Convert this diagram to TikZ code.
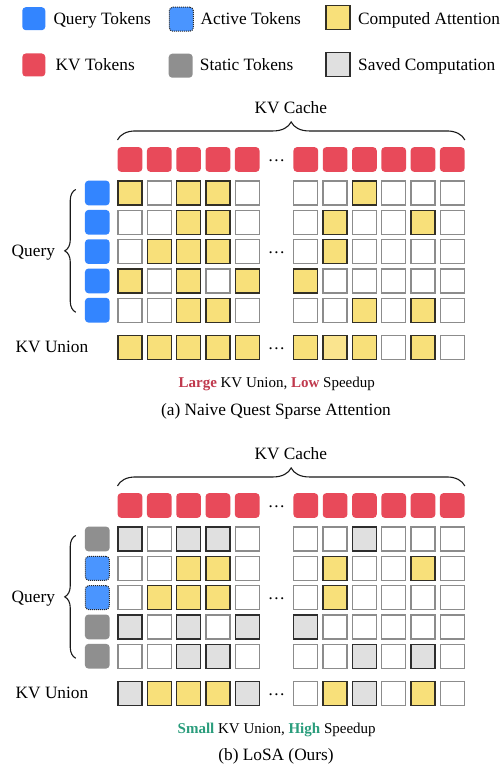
\documentclass[tikz,border=0pt]{standalone}
\usepackage{fontspec}
\setmainfont{Liberation Serif}
\usetikzlibrary{decorations.pathreplacing,calc}

\definecolor{qblue}{HTML}{3385FF}
\definecolor{ablue}{HTML}{4A95FF}
\definecolor{kvred}{HTML}{E84A5A}
\definecolor{sgrey}{HTML}{8F8F8F}
\definecolor{fcW}{HTML}{FFFFFF}
\definecolor{dcW}{HTML}{8C8C8C}
\definecolor{fcY}{HTML}{F8E07A}
\definecolor{dcY}{HTML}{333026}
\definecolor{fcL}{HTML}{FAE48E}
\definecolor{dcL}{HTML}{333026}
\definecolor{fcG}{HTML}{E0E0E0}
\definecolor{dcG}{HTML}{2E2E2E}
\definecolor{badred}{HTML}{C0394D}
\definecolor{goodgreen}{HTML}{2A9D7C}

\newcommand\mainsz{\fontsize{17.3}{20}\selectfont}
\newcommand\smallsz{\fontsize{15}{18}\selectfont}

\tikzset{
  tok/.style={minimum width=24.7pt, minimum height=24.7pt, inner sep=0pt, rounded corners=3.5pt, draw=none},
  kvtok/.style={tok, fill=kvred},
  qtok/.style={tok, fill=qblue},
  atok/.style={tok, fill=ablue, draw=black!85, densely dotted, line width=1pt, minimum width=24pt, minimum height=24pt},
  stok/.style={tok, fill=sgrey},
  cell/.style={minimum width=24pt, minimum height=24pt, inner sep=0pt, line width=1.3pt, draw=dc#1, fill=fc#1},
  lbl/.style={inner sep=0pt, font=\mainsz},
  sublbl/.style={inner sep=0pt, font=\smallsz},
  dots/.style={inner sep=0pt, font=\mainsz},
  bracestyle/.style={decorate, decoration={brace, amplitude=#1}, line width=1.1pt, black!90},
}

\newcommand\mygrid[3]{%
  \foreach \r/\pat in {#3} {
    \foreach \c [count=\k] in \pat {
      \pgfmathsetmacro\xx{\k<6 ? 130+29.3*(\k-1) : 130+29.3*\k}
      \pgfmathsetmacro\yy{#2 + (\r<6 ? 193+29.3*(\r-1) : 347.3)}
      \node[cell=\c] (#1\r-\k) at (\xx,\yy) {};
    }
  }
  \foreach \k in {1,...,11} {
    \pgfmathsetmacro\xx{\k<6 ? 130+29.3*(\k-1) : 130+29.3*\k}
    \pgfmathsetmacro\yy{#2 + 159.5}
    \node[kvtok] (#1kv\k) at (\xx,\yy) {};
  }
}

\begin{document}
\begin{tikzpicture}[x=1pt,y=-1pt]
\fill[white] (0,0) rectangle (503,765);
\useasboundingbox (0,0) rectangle (503,765);

% ---------- legend ----------
\node[qtok, minimum width=23pt, minimum height=23pt] (lgq) at (33.8,18.7) {};
\node[lbl, anchor=base west] (lgqt) at (53.3,25) {Query Tokens};
\node[atok] (lga) at (181.3,19.2) {};
\node[lbl, anchor=base west] (lgat) at (200.5,25) {Active Tokens};
\node[cell=Y] (lgc) at (338,17.7) {};
\node[lbl, anchor=base west] (lgct) at (358,25) {Computed Attention};
\node[kvtok, minimum width=23pt, minimum height=23pt] (lgk) at (33.8,65) {};
\node[lbl, anchor=base west] (lgkt) at (55.5,71) {KV Tokens};
\node[stok, minimum width=24pt, minimum height=24pt] (lgs) at (180.7,65.7) {};
\node[lbl, anchor=base west] (lgst) at (199.7,71) {Static Tokens};
\node[cell=G] (lgg) at (338,64.8) {};
\node[lbl, anchor=base west] (lggt) at (358,71) {Saved Computation};

% ---------- panel (a) ----------
\mygrid{a}{0}{1/{Y,W,Y,Y,W,W,W,Y,W,W,W},2/{W,W,Y,Y,W,W,Y,W,W,Y,W},3/{W,Y,Y,Y,W,W,Y,W,W,W,W},4/{Y,W,Y,W,Y,Y,W,W,W,W,W},5/{W,W,Y,Y,W,W,W,Y,W,Y,W},6/{Y,Y,Y,Y,Y,Y,L,Y,W,Y,W}}
\node[qtok] (aq1) at (97.3,193) {};
\node[qtok] (aq2) at (97.3,222.3) {};
\node[qtok] (aq3) at (97.3,251.6) {};
\node[qtok] (aq4) at (97.3,280.9) {};
\node[qtok] (aq5) at (97.3,310.2) {};
\node[dots] (adots1) at (276.5,160.5) {…};
\node[dots] (adots2) at (276.5,252.6) {…};
\node[dots] (adots3) at (276.5,348.3) {…};
\draw[bracestyle=18pt] ([yshift=7pt]akv1.north west) -- ([yshift=7pt]akv11.north east);
\node[lbl, anchor=base] (acache) at (290.8,113.3) {KV Cache};
\coordinate (abt) at ([xshift=-9pt,yshift=-9pt]aq1.north west);
\coordinate (abb) at ([xshift=-9pt,yshift=10.5pt]aq5.south west);
\draw[bracestyle=11pt] (abb) -- (abt);
\node[lbl, anchor=base west] (aquery) at (11.5,256.5) {Query};
\node[lbl, anchor=base west] (aunion) at (15.5,352.3) {KV Union};
\node[sublbl, anchor=base] (asub) at (276.7,387.3) {\textbf{\color{badred}Large} KV Union, \textbf{\color{badred}Low} Speedup};
\node[lbl, anchor=base] (acap) at (276,415) {(a) Naive Quest Sparse Attention};

% ---------- panel (b) ----------
\mygrid{b}{346}{1/{G,W,G,G,W,W,W,G,W,W,W},2/{W,W,Y,Y,W,W,Y,W,W,Y,W},3/{W,Y,Y,Y,W,W,Y,W,W,W,W},4/{G,W,G,W,G,G,W,W,W,W,W},5/{W,W,G,G,W,W,W,G,W,G,W},6/{G,Y,Y,Y,G,W,Y,G,W,Y,W}}
\node[stok] (bq1) at (97.3,539) {};
\node[atok] (bq2) at (97.3,568.3) {};
\node[atok] (bq3) at (97.3,597.6) {};
\node[stok] (bq4) at (97.3,626.9) {};
\node[stok] (bq5) at (97.3,656.2) {};
\node[dots] (bdots1) at (276.5,506.5) {…};
\node[dots] (bdots2) at (276.5,598.6) {…};
\node[dots] (bdots3) at (276.5,694.3) {…};
\draw[bracestyle=18pt] ([yshift=7pt]bkv1.north west) -- ([yshift=7pt]bkv11.north east);
\node[lbl, anchor=base] (bcache) at (290.8,459.3) {KV Cache};
\coordinate (bbt) at ([xshift=-9pt,yshift=-9pt]bq1.north west);
\coordinate (bbb) at ([xshift=-9pt,yshift=10.5pt]bq5.south west);
\draw[bracestyle=11pt] (bbb) -- (bbt);
\node[lbl, anchor=base west] (bquery) at (11.5,602.5) {Query};
\node[lbl, anchor=base west] (bunion) at (15.5,698.3) {KV Union};
\node[sublbl, anchor=base] (bsub) at (276.7,733) {\textbf{\color{goodgreen}Small} KV Union, \textbf{\color{goodgreen}High} Speedup};
\node[lbl, anchor=base] (bcap) at (276,760) {(b) LoSA (Ours)};
\end{tikzpicture}
\end{document}
